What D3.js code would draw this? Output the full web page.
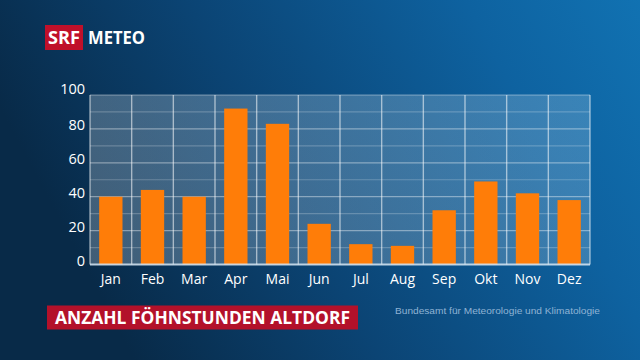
<!DOCTYPE html>
<html><head><meta charset="utf-8">
<script src="https://cdn.jsdelivr.net/npm/d3@7"></script>
<style>html,body{margin:0;padding:0;background:#0b3a62;overflow:hidden}</style>
</head><body>
<svg id="c" width="640" height="360"></svg>
<script>
const months = ["Jan","Feb","Mar","Apr","Mai","Jun","Jul","Aug","Sep","Okt","Nov","Dez"];
const hours = [40,44,40,92,83,24,12,11,32,49,42,38];
const yTicks = [0,20,40,60,80,100];
const gridTicks = [10,20,30,40,50,60,70,80,90,100];
const title = "ANZAHL FÖHNSTUNDEN ALTDORF";
const source = "Bundesamt für Meteorologie und Klimatologie";

const svg = d3.select("#c");
const defs = svg.append("defs");
const bg = defs.append("linearGradient").attr("id","bg").attr("x1","0").attr("y1","0.3").attr("x2","1").attr("y2","0");
bg.append("stop").attr("offset","0").attr("stop-color","#082a48");
bg.append("stop").attr("offset","0.35").attr("stop-color","#0b4474");
bg.append("stop").attr("offset","0.75").attr("stop-color","#0e62a0");
bg.append("stop").attr("offset","1").attr("stop-color","#1172b2");
svg.append("rect").attr("width",640).attr("height",360).attr("fill","url(#bg)");
const pg = defs.append("linearGradient").attr("id","pg").attr("x1","0").attr("y1","0").attr("x2","1").attr("y2","0");
pg.append("stop").attr("offset","0").attr("stop-color","#b8c8d4").attr("stop-opacity",0.32);
pg.append("stop").attr("offset","1").attr("stop-color","#cfe4f2").attr("stop-opacity",0.22);

const m = {l:90, r:590, t:95, b:264.5};
const x = d3.scaleBand().domain(months).range([m.l,m.r]).paddingInner(0.44).paddingOuter(0.22);
const xc = d3.scaleBand().domain(months).range([m.l,m.r]);
const y = d3.scaleLinear().domain([0,100]).range([m.b,m.t]);

svg.append("rect").attr("x",m.l).attr("y",m.t).attr("width",m.r-m.l).attr("height",m.b-m.t).attr("fill","url(#pg)");

// horizontal grid
svg.append("g").selectAll("line").data(gridTicks).join("line")
  .attr("x1",m.l).attr("x2",m.r).attr("y1",d=>y(d)).attr("y2",d=>y(d))
  .attr("stroke","#ffffff").attr("stroke-opacity",d=>d%20===0?0.4:0.22).attr("stroke-width",1.2);
// vertical grid
const vx = months.map(d=>xc(d)).concat([m.r]);
svg.append("g").selectAll("line").data(vx).join("line")
  .attr("x1",d=>d).attr("x2",d=>d).attr("y1",m.t).attr("y2",m.b)
  .attr("stroke","#ffffff").attr("stroke-opacity",0.55).attr("stroke-width",1.4);

// bars
svg.append("g").selectAll("rect").data(hours).join("rect")
  .attr("x",(d,i)=>x(months[i])).attr("width",x.bandwidth())
  .attr("y",d=>y(d)).attr("height",d=>y(0)-y(d)).attr("fill","#ff7d08");

// baseline
svg.append("line").attr("x1",m.l).attr("x2",m.r).attr("y1",m.b).attr("y2",m.b)
  .attr("stroke","#d8e8f4").attr("stroke-opacity",0.85).attr("stroke-width",2);

// y axis
const ya = svg.append("g").attr("transform",`translate(${m.l-5},-4)`)
  .call(d3.axisLeft(y).tickValues(yTicks).tickSize(0).tickPadding(0));
ya.select(".domain").remove();
ya.selectAll("text").attr("fill","#fff").attr("font-family","'Open Sans', sans-serif").attr("font-size",14.5)
  .attr("dy","0.32em");
ya.selectAll("text").filter(d=>d===100).attr("dy","0.2em");

// x axis
const xa = svg.append("g").attr("transform",`translate(0,${m.b})`)
  .call(d3.axisBottom(xc).tickSize(0).tickPadding(9));
xa.select(".domain").remove();
xa.selectAll("text").attr("fill","#fff").attr("font-family","'Open Sans', sans-serif").attr("font-size",14).attr("dy","0.75em");

// logo
svg.append("rect").attr("x",45).attr("y",25).attr("width",38).attr("height",25).attr("fill","#c0102a");
svg.append("text").attr("x",64).attr("y",44).attr("text-anchor","middle").attr("fill","#fff")
  .attr("font-family","'Open Sans', sans-serif").attr("font-weight",700).attr("font-size",17)
  .attr("textLength",32).attr("lengthAdjust","spacingAndGlyphs").text("SRF");
svg.append("text").attr("x",88).attr("y",44).attr("fill","#fff")
  .attr("font-family","'Open Sans', sans-serif").attr("font-weight",700).attr("font-size",17)
  .attr("textLength",57).attr("lengthAdjust","spacingAndGlyphs").text("METEO");

// title
svg.append("rect").attr("x",47).attr("y",305.5).attr("width",311).attr("height",24).attr("fill","#b3112a");
svg.append("text").attr("x",55).attr("y",324).attr("fill","#fff")
  .attr("font-family","'Open Sans', sans-serif").attr("font-weight",700).attr("font-size",17)
  .attr("textLength",295).attr("lengthAdjust","spacingAndGlyphs").text(title);

// source
svg.append("text").attr("x",395).attr("y",314).attr("fill","#8fb3d4")
  .attr("font-family","'Liberation Sans', Arial, sans-serif").attr("font-size",9.5)
  .attr("textLength",205).attr("lengthAdjust","spacingAndGlyphs").text(source);
</script>
</body></html>
